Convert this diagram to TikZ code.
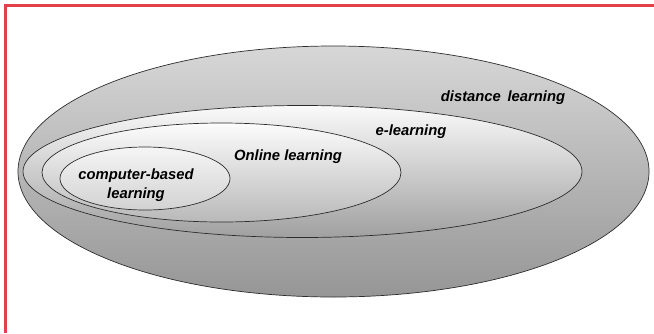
\documentclass[tikz,border=0pt]{standalone}
\usepackage{fontspec}
\setmainfont{Liberation Sans}
\usetikzlibrary{shapes.geometric}
\definecolor{framered}{RGB}{226,64,74}
\definecolor{rim}{RGB}{45,45,45}
\begin{document}
\begin{tikzpicture}[x=1pt,y=-1pt,
  region/.style={ellipse, draw=rim, line width=0.7pt, inner sep=0pt},
  lbl/.style={font=\bfseries\itshape\fontsize{14.8}{19}\selectfont, align=center, inner sep=0pt}]
\useasboundingbox (0,0) rectangle (654,333);
\fill[white] (0,0) rectangle (654,333);
% frame along the top and left edges
\draw[framered, line width=3pt] (5,333) -- (5,5) -- (654,5);

% nested regions, outermost first
\node[region, minimum width=631pt, minimum height=251pt,
      top color={rgb,255:red,215;green,215;blue,215}, bottom color={rgb,255:red,150;green,150;blue,150}]
  (dist) at (333.5,171.5) {};
\node[region, minimum width=559pt, minimum height=132pt,
      top color={rgb,255:red,250;green,250;blue,250}, bottom color={rgb,255:red,160;green,160;blue,160}]
  (elearn) at (302.5,171.5) {};
\node[region, minimum width=359pt, minimum height=99pt,
      top color={rgb,255:red,252;green,252;blue,252}, bottom color={rgb,255:red,185;green,185;blue,185}]
  (online) at (221.5,172.5) {};
\node[region, minimum width=170pt, minimum height=63pt,
      top color={rgb,255:red,245;green,245;blue,245}, bottom color={rgb,255:red,210;green,210;blue,210}]
  (cbl) at (145,178.5) {};

% labels
\node[lbl] (tdist) at (503,98) {distance\hspace{0.45em}learning};
\node[lbl] (telearn) at (411,132) {e-learning};
\node[lbl] (tonline) at (288,157) {Online learning};
\node[lbl] (tcbl) at (136,185) {computer-based\\learning};
\end{tikzpicture}
\end{document}
